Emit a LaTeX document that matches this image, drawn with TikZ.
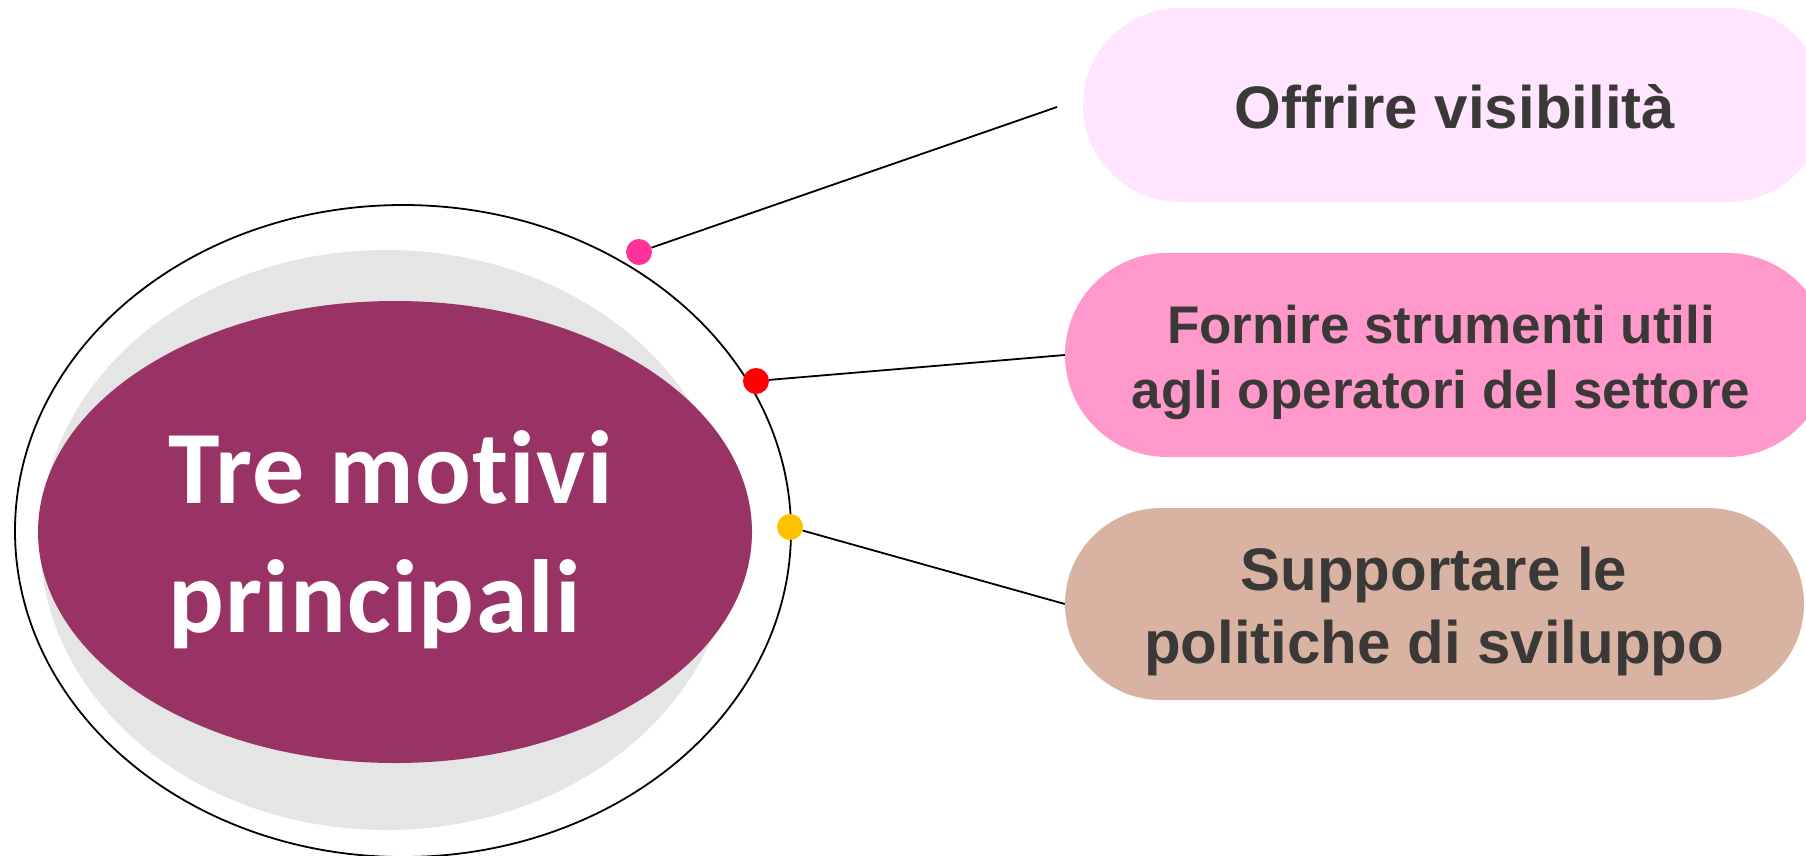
\documentclass[tikz,border=0pt]{standalone}
\usepackage{fontspec}
\setmainfont{Liberation Sans}
\newfontfamily\carlito[Ligatures=NoCommon,LetterSpace=1.2]{Carlito}
\usetikzlibrary{shapes.geometric}
\definecolor{hubpurple}{HTML}{993366}
\definecolor{shadowgray}{HTML}{E5E5E5}
\definecolor{boxA}{HTML}{FFE5FF}
\definecolor{boxB}{HTML}{FF99CC}
\definecolor{boxC}{HTML}{D8B3A1}
\definecolor{dotpink}{HTML}{FF3399}
\definecolor{dotred}{HTML}{FF0000}
\definecolor{dotyellow}{HTML}{FFC000}
\definecolor{boxtextcol}{HTML}{3B3838}
\tikzset{
  stadium/.style={rectangle, inner sep=0pt, draw=none},
  dotnode/.style={circle, inner sep=0pt, minimum size=26pt, draw=none},
  link/.style={draw=black, line width=1.8pt},
  boxtext/.style={anchor=base, inner sep=0pt, text=boxtextcol},
}
\begin{document}
\begin{tikzpicture}[x=1pt,y=-1pt]
\useasboundingbox (0,0) rectangle (1806,855);
\fill[white] (0,0) rectangle (1806,855);

% central ellipses
\node[ellipse, draw=black, line width=1.8pt, inner sep=0pt, minimum width=776pt, minimum height=652pt] (outer) at (403,531) {};
\node[ellipse, fill=shadowgray, inner sep=0pt, minimum width=692pt, minimum height=580pt] (shadow) at (386,540) {};
\node[ellipse, fill=hubpurple, inner sep=0pt, minimum width=714pt, minimum height=462pt] (hub) at (395,532) {};
\node[anchor=base west, inner sep=0pt, text=white, font={\carlito\bfseries\fontsize{104}{129}\selectfont}] (title) at (168,503)
  {\begin{tabular}[t]{@{}l@{}}Tre motivi\\principali\end{tabular}};

% boxes
\node[stadium, fill=boxA, minimum width=742pt, minimum height=194pt, rounded corners=97pt] (b1) at (1454,105) {};
\node[stadium, fill=boxB, minimum width=764pt, minimum height=204pt, rounded corners=102pt] (b2) at (1447,355) {};
\node[stadium, fill=boxC, minimum width=739pt, minimum height=192pt, rounded corners=96pt] (b3) at (1434.5,604) {};

\node[boxtext, font={\bfseries\fontsize{60}{73}\selectfont}] (t1) at (1455,128) {Offrire visibilità};
\node[boxtext, font={\bfseries\fontsize{53}{65}\selectfont}] (t2) at (1441,343)
  {\begin{tabular}[t]{@{}c@{}}Fornire strumenti utili\\agli operatori del settore\end{tabular}};
\node[boxtext, font={\bfseries\fontsize{60}{73}\selectfont}] (t3) at (1434,590)
  {\begin{tabular}[t]{@{}c@{}}Supportare le\\politiche di sviluppo\end{tabular}};

% dots
\node[dotnode, fill=dotpink] (d1) at (639,252) {};
\node[dotnode, fill=dotred] (d2) at (756,381) {};
\node[dotnode, fill=dotyellow] (d3) at (790,527) {};

% connectors
\coordinate (e1) at (1057,107);
\draw[link] (d1) -- (e1);
\draw[link] (d2) -- (b2.west);
\draw[link] (d3) -- (b3.west);
\end{tikzpicture}
\end{document}
